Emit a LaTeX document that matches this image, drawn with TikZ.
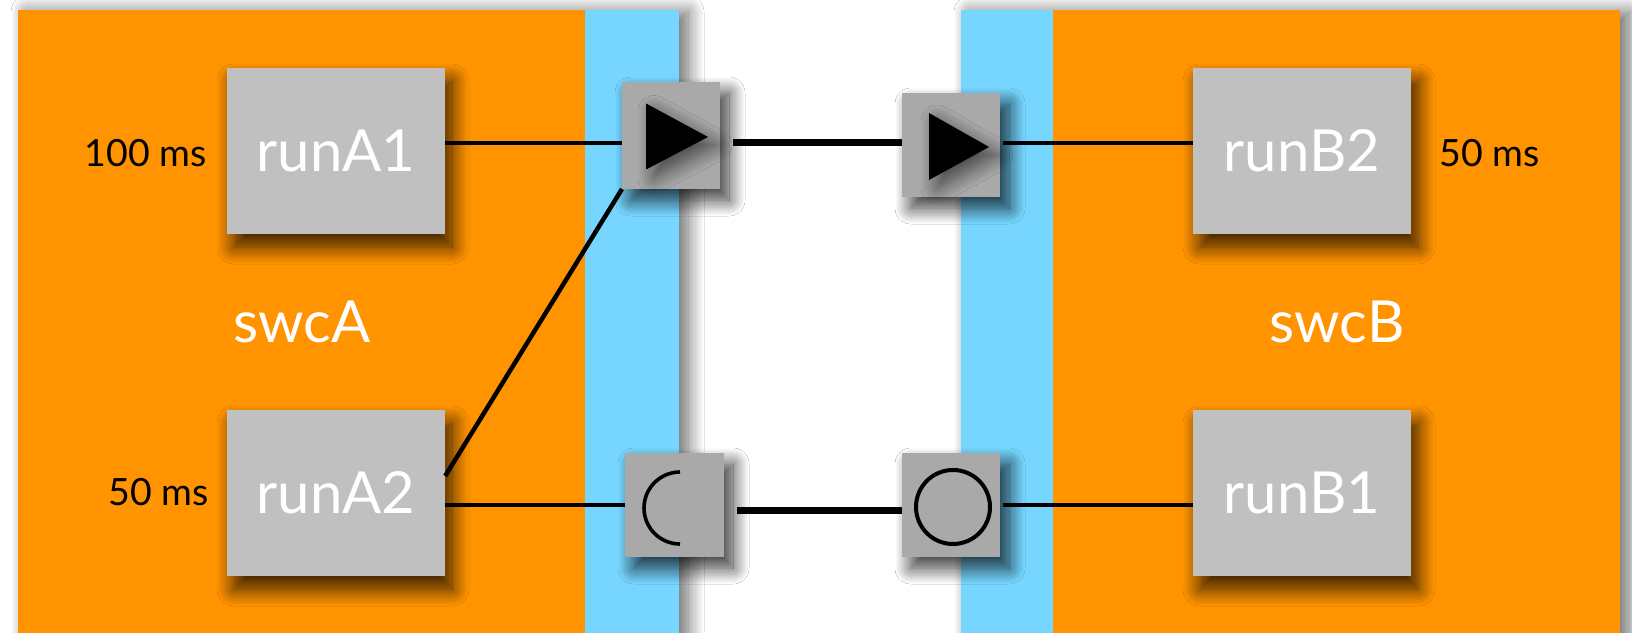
\documentclass[tikz,border=0pt]{standalone}
\usepackage{fontspec}
\setmainfont{Lato}
\usetikzlibrary{shadows.blur,calc}
\definecolor{swcorange}{HTML}{FF9300}
\definecolor{portblue}{HTML}{76D6FF}
\definecolor{runnergray}{HTML}{C0C0C0}
\definecolor{portgray}{HTML}{A9A9A9}

\begin{document}
\begin{tikzpicture}[x=1pt,y=-1pt,
  panel/.style={fill=swcorange,
    blur shadow={shadow xshift=9pt, shadow yshift=-2pt, shadow blur radius=16pt,
      shadow blur steps=16, shadow opacity=60}},
  strip/.style={fill=portblue},
  runbox/.style={rectangle, fill=runnergray, minimum width=218pt, minimum height=166pt,
    inner sep=0pt, text=white, font=\fontsize{58}{68}\selectfont,
    blur shadow={shadow xshift=7pt, shadow yshift=-13pt, shadow blur radius=17pt,
      shadow blur steps=18, shadow opacity=80}},
  portbox/.style={rectangle, fill=portgray, minimum width=98pt, minimum height=104pt, inner sep=0pt,
    blur shadow={shadow xshift=9pt, shadow yshift=-11pt, shadow blur radius=16pt,
      shadow blur steps=18, shadow opacity=80}},
  swclabel/.style={text=white, font=\fontsize{58}{68}\selectfont, inner sep=0pt},
  period/.style={text=black, font=\fontsize{37.5}{44}\selectfont, inner sep=0pt},
  wire/.style={draw=black, line width=4.5pt},
  bus/.style={draw=black, line width=7pt},
  sendmark/.style={fill=black,
    blur shadow={shadow xshift=8pt, shadow yshift=-8pt, shadow blur radius=16pt,
      shadow blur steps=16, shadow opacity=60}},
]
\useasboundingbox (0,0) rectangle (1632,632);
\fill[white] (0,0) rectangle (1632,632);

% software components with their port strips
\path[panel] (18,10) rectangle (679,660);
\fill[strip] (585,10) rectangle (679,660);
\path[panel] (961,10) rectangle (1620,660);
\fill[strip] (961,10) rectangle (1053,660);

\node[swclabel] (swcA) at (302,322) {swcA};
\node[swclabel] (swcB) at (1337,322) {swcB};

% runnables
\node[runbox] (runA1) at (336,151) {runA1};
\node[runbox] (runA2) at (336,493) {runA2};
\node[runbox] (runB2) at (1302,151) {runB2};
\node[runbox] (runB1) at (1302,493) {runB1};

% periods
\node[period, anchor=base east] (pA1) at ([xshift=-20pt,yshift=-15pt]runA1.west) {100 ms};
\node[period, anchor=base east] (pA2) at ([xshift=-18pt,yshift=-12pt]runA2.west) {50 ms};
\node[period, anchor=base west] (pB2) at ([xshift=28pt,yshift=-15pt]runB2.east) {50 ms};

% connectors inside the components
\draw[wire] ([yshift=8pt]runA1.east) -- ([yshift=8pt]runA1.east -| 622,0);
\draw[wire] ([yshift=17pt]runA2.east) -- (622,189);
\draw[wire] ([yshift=-12pt]runA2.east) -- ([yshift=-12pt]runA2.east -| 625,0);
\draw[wire] (1003,143) -- ([yshift=8pt]runB2.west);
\draw[wire] (1003,505) -- ([yshift=-12pt]runB1.west);

% ports
\node[portbox, minimum height=107pt] (pTL) at (671,135.5) {};
\node[portbox] (pTR) at (951,145) {};
\node[portbox, minimum width=99pt] (pBL) at (674.5,505) {};
\node[portbox] (pBR) at (951,505) {};

% bus connectors between the components
\draw[bus, shorten <=13pt] ([yshift=-6.5pt]pTL.east) -- ([yshift=-6.5pt]pTL.east -| pTR.west);
\draw[bus, shorten <=13pt] ([yshift=-5pt]pBL.east) -- ([yshift=-5pt]pBL.east -| pBR.west);

% port symbols
\begin{scope}[shift={(pTL.center)}]
  \path[sendmark] (-25,-32) -- (-25,34) -- (37,1.5) -- cycle;
\end{scope}
\begin{scope}[shift={(pTR.center)}]
  \path[sendmark] (-22,-32) -- (-22,35) -- (38,2) -- cycle;
\end{scope}
\begin{scope}[shift={(pBL.center)}]
  \draw[line width=3.6pt] (5.5,-33) arc (270:90:36);
\end{scope}
\begin{scope}[shift={(pBR.center)}]
  \draw[line width=4pt] (2,2) circle (37);
\end{scope}
\end{tikzpicture}
\end{document}
